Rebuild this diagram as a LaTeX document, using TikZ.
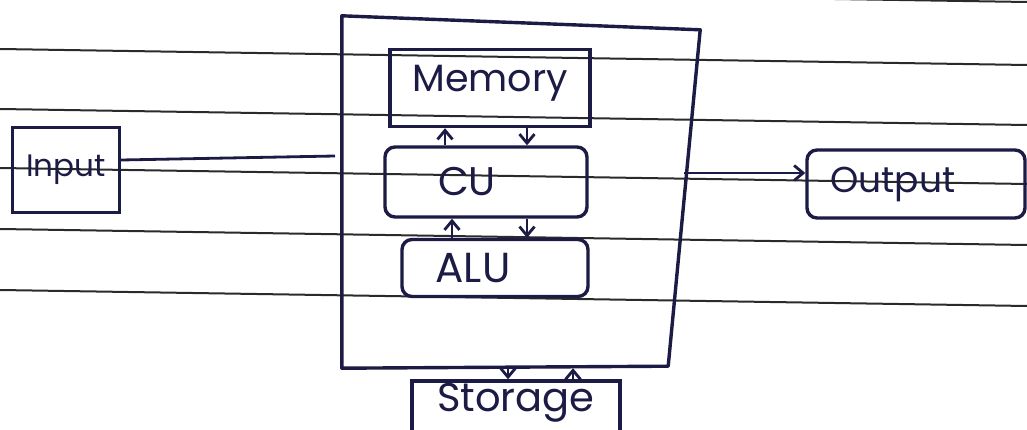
\documentclass[tikz,border=0pt]{standalone}
\usepackage{fontspec}
\setmainfont{Poppins}
\usetikzlibrary{arrows.meta}
\definecolor{ink}{HTML}{1B1B45}
\definecolor{rule}{HTML}{2A2A2A}
\tikzset{
  ruling/.style={draw=rule, line width=2pt},
  box/.style={draw=ink, line width=3.4pt, inner sep=4pt, text=ink},
  roundbox/.style={box, rounded corners=10pt},
  link/.style={draw=ink, line width=2.8pt},
  flow/.style={link, -{Straight Barb[length=9pt,width=15pt]}},
  hand/.style={font=\fontsize{#1}{#1}\selectfont},
}
\begin{document}
\begin{tikzpicture}[x=1pt,y=-1pt]
\useasboundingbox (0,0) rectangle (1027,430);
\clip (0,0) rectangle (1027,430);
\fill[white] (0,0) rectangle (1027,430);

% ruled paper
\foreach \y in {-14,49,109,168,229,290}
  \draw[ruling] (0,\y) -- (1027,\y+16);

% processor outline, drawn a little askew on its right side
\node[minimum width=342, minimum height=352, inner sep=0pt] (cpu) at (513,192) {};
\draw[box, line join=round] (cpu.north west) -- ([xshift=16pt,yshift=-14pt]cpu.north east)
  -- ([xshift=-16pt,yshift=2pt]cpu.south east) -- (cpu.south west) -- cycle;

% parts of the processor
\node[box, minimum width=200, minimum height=77, text depth=20pt, hand=38] (memory) at (490,88) {Memory};
\node[roundbox, minimum width=202, minimum height=70, hand=40] (cu) at (486,182) {CU\hspace*{38pt}};
\node[roundbox, minimum width=186, minimum height=57, hand=42] (alu) at (495,268) {ALU\hspace*{44pt}};

% peripherals
\node[box, minimum width=107, minimum height=85, hand=31] (input) at (66,170) {Input};
\node[roundbox, minimum width=218, minimum height=68, hand=36] (output) at (916,184) {Output\hspace*{46pt}};
\node[box, minimum width=208, text height=26pt, text depth=36pt, hand=40] (storage) at (516,416) {Storage};

% connectors
\coordinate (inEnd) at (335,156);
\draw[link] ([yshift=10pt]input.east) -- (inEnd);
\draw[flow] ([yshift=19pt]cpu.east) -- ([yshift=19pt]cpu.east -| output.west);

\draw[flow] ([xshift=-41pt]cu.north) -- ([xshift=-41pt]cu.north |- memory.south);
\draw[flow] ([xshift=41pt]cu.north |- memory.south) -- ([xshift=41pt]cu.north);
\draw[flow] ([xshift=-34pt]cu.south |- alu.north) -- ([xshift=-34pt]cu.south);
\draw[flow] ([xshift=41pt]cu.south) -- ([xshift=41pt]cu.south |- alu.north);

\draw[flow] ([xshift=-5pt]cpu.south) -- ([xshift=-5pt]cpu.south |- storage.north);
\draw[flow] ([xshift=60pt]cpu.south |- storage.north) -- ([xshift=60pt]cpu.south);
\end{tikzpicture}
\end{document}
